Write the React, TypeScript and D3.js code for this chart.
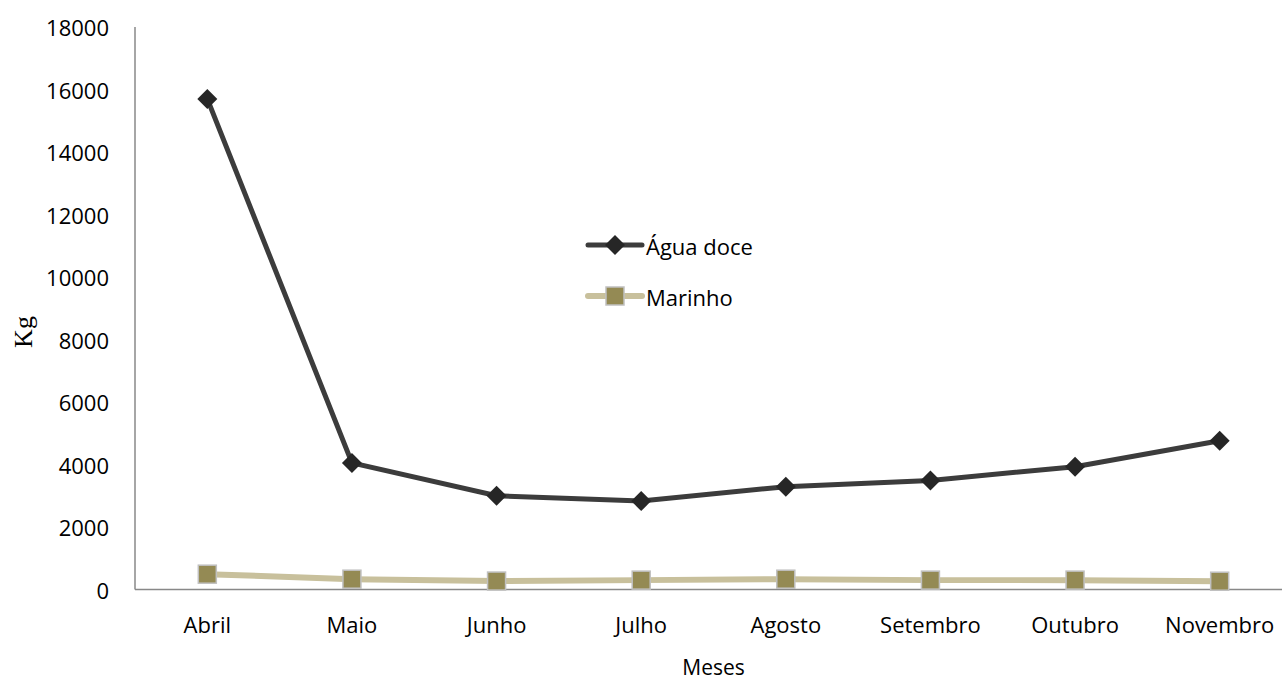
import React from "react";
import * as d3 from "d3";

const months = ["Abril", "Maio", "Junho", "Julho", "Agosto", "Setembro", "Outubro", "Novembro"];
const aguaDoce = [15700, 4050, 3000, 2830, 3290, 3490, 3930, 4760];
const marinho = [490, 330, 270, 300, 330, 300, 300, 265];
const yTicks = [0, 2000, 4000, 6000, 8000, 10000, 12000, 14000, 16000, 18000];

const W = 1282;
const H = 682;
const left = 135;
const right = 1292;
const top = 27;
const bottom = 589.5;

export default function App() {
  const x = d3.scalePoint<string>().domain(months).range([left, right]).padding(0.5);
  const y = d3.scaleLinear().domain([0, 18000]).range([bottom, top]);
  const line = d3
    .line<number>()
    .x((_, i) => x(months[i]) as number)
    .y((d) => y(d));
  const font = "'Open Sans', sans-serif";
  const diamond = (cx: number, cy: number, r: number) =>
    `M${cx},${cy - r}L${cx + r},${cy}L${cx},${cy + r}L${cx - r},${cy}Z`;

  return (
    <svg
      width={W}
      height={H}
      style={{ position: "fixed", left: 0, top: 0, display: "block", background: "#fff" }}
    >
      {/* axes */}
      <line x1={left} x2={left} y1={top} y2={bottom} stroke="#888" strokeWidth={1.5} />
      <line x1={left} x2={W} y1={bottom} y2={bottom} stroke="#888" strokeWidth={1.5} />
      {yTicks.map((t) => (
        <text
          key={t}
          x={109}
          y={y(t)}
          textAnchor="end"
          dominantBaseline="central"
          fontFamily={font}
          fontSize={22}
          fill="#000"
        >
          {t}
        </text>
      ))}
      {months.map((m) => (
        <text
          key={m}
          x={x(m)}
          y={624}
          textAnchor="middle"
          dominantBaseline="central"
          fontFamily={font}
          fontSize={22}
          fill="#000"
        >
          {m}
        </text>
      ))}
      <text
        x={(left + right) / 2}
        y={675}
        textAnchor="middle"
        fontFamily={font}
        fontSize={21}
        fill="#000"
      >
        Meses
      </text>
      <text
        transform={`translate(32,${332}) rotate(-90)`}
        textAnchor="middle"
        fontFamily="'Liberation Serif', 'Times New Roman', serif"
        fontSize={26}
        fill="#000"
      >
        Kg
      </text>

      {/* Marinho */}
      <path d={line(marinho) || ""} fill="none" stroke="#c8c09c" strokeWidth={6} />
      {marinho.map((v, i) => (
        <rect
          key={i}
          x={(x(months[i]) as number) - 9}
          y={y(v) - 9}
          width={18}
          height={18}
          fill="#948a54"
          stroke="#c0c0c0"
          strokeWidth={1.5}
        />
      ))}

      {/* Água doce */}
      <path d={line(aguaDoce) || ""} fill="none" stroke="#3c3c3c" strokeWidth={5} />
      {aguaDoce.map((v, i) => (
        <path key={i} d={diamond(x(months[i]) as number, y(v), 10)} fill="#262626" />
      ))}

      {/* legend */}
      <line x1={588} x2={642} y1={245} y2={245} stroke="#3c3c3c" strokeWidth={5} strokeLinecap="round" />
      <path d={diamond(615, 245, 10)} fill="#262626" />
      <text x={646} y={246} dominantBaseline="central" fontFamily={font} fontSize={22} fill="#000">
        Água doce
      </text>
      <line x1={588} x2={642} y1={296} y2={296} stroke="#c8c09c" strokeWidth={6} strokeLinecap="round" />
      <rect x={606} y={287} width={18} height={18} fill="#948a54" stroke="#c0c0c0" strokeWidth={1.5} />
      <text x={646} y={297} dominantBaseline="central" fontFamily={font} fontSize={22} fill="#000">
        Marinho
      </text>
    </svg>
  );
}
